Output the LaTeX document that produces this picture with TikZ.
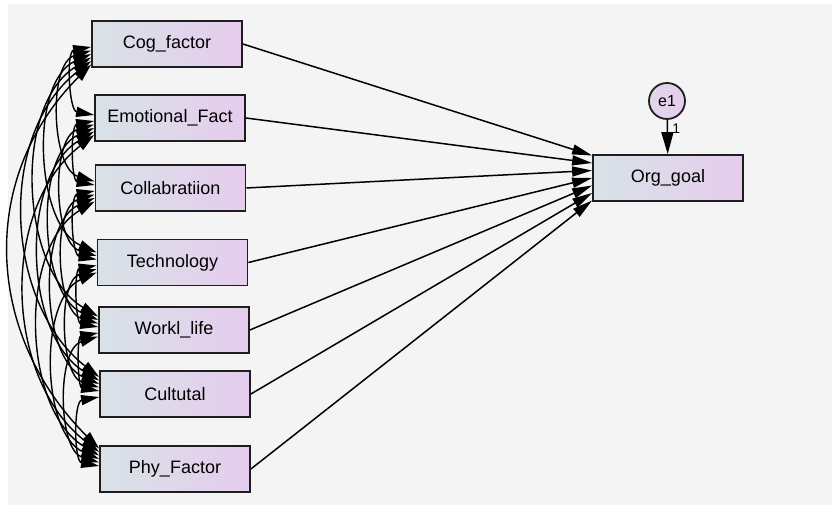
\documentclass[tikz,border=0pt]{standalone}
\usepackage{fontspec}
\setmainfont{Liberation Sans}
\usetikzlibrary{arrows.meta}
\definecolor{bggray}{RGB}{244,244,244}
\definecolor{boxleft}{RGB}{216,226,230}
\definecolor{boxright}{RGB}{230,204,238}
\definecolor{edge}{RGB}{30,30,30}
\tikzset{
  var/.style={draw=edge, line width=1.8pt, left color=boxleft, right color=boxright,
    minimum width=150pt, minimum height=46pt, inner sep=0pt,
    font=\fontsize{18}{21}\selectfont},
  err/.style={circle, draw=edge, line width=1.8pt, left color=boxleft!50!boxright,
    right color=boxright, minimum size=36pt, inner sep=0pt,
    font=\fontsize{16}{19}\selectfont},
  reg/.style={line width=1.5pt, -{Triangle[length=20pt,width=10pt]}},
  cov/.style={line width=1.4pt, {Triangle[length=18pt,width=10pt]}-{Triangle[length=18pt,width=10pt]}},
}
\begin{document}
\begin{tikzpicture}[x=1pt,y=1pt]
	%canvas
	\useasboundingbox (0,0) rectangle (832,505);
	\fill[white] (0,0) rectangle (832,505);
	\fill[bggray] (8,0) rectangle (832,501);
	%observed variables
	\node[var] (f1) at (167,461) {Cog\_factor};
	\node[var] (f2) at (170,387) {Emotional\_Fact};
	\node[var] (f3) at (170.5,317) {Collabratiion};
	\node[var] (f4) at (172.5,242.5) {Technology};
	\node[var] (f5) at (174,175) {Workl\_life};
	\node[var] (f6) at (175,111) {Cultutal};
	\node[var] (f7) at (175,36) {Phy\_Factor};
	\node[var] (org) at (668,327) {Org\_goal};
	%error term
	\node[err] (e1) at (667,404) {e1};
	%covariances
	\foreach \i in {1,...,6}{
		\pgfmathtruncatemacro\first{\i+1}
		\foreach \j in {\first,...,7}{
			\pgfmathtruncatemacro\gap{\j-\i}
			\pgfmathsetmacro\outang{190+7*(\gap-1)}
			\pgfmathsetmacro\inang{170-7*(\gap-1)}
			\pgfmathsetmacro\off{3+3.5*(\gap-1)}
			\pgfmathsetmacro\loose{{0.96,0.88,0.87,0.9,0.97,1.07}[\gap-1]}
			\draw[cov] ([yshift=-\off pt]f\i.west) to[out=\outang, in=\inang, looseness=\loose] ([yshift=\off pt]f\j.west);
		}
	}
	%regressions
	\foreach \i in {1,...,7}
	\draw[reg] (f\i.east) -- ([yshift={(4-\i)*7.5pt}]org.west);
	\draw[reg, -{Triangle[length=22pt,width=12pt]}] (e1) -- node[pos=0.27, right=1pt, font=\fontsize{14}{16}\selectfont] {1} (org);
\end{tikzpicture}
\end{document}
